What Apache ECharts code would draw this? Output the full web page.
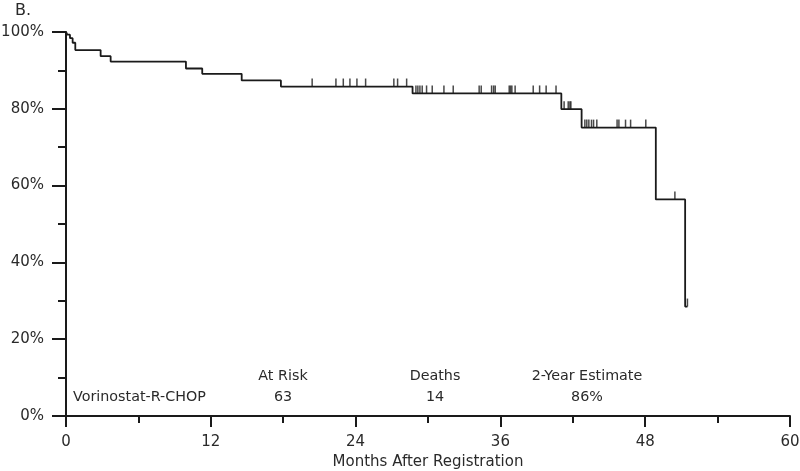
<!DOCTYPE html>
<html>
<head>
<meta charset="utf-8">
<script src="https://cdn.jsdelivr.net/npm/echarts@6/dist/echarts.min.js"></script>
<style>
html,body{margin:0;padding:0;background:#fff;}
#c{width:800px;height:471px;}
</style>
</head>
<body>
<div id="c"></div>
<script>
// Kaplan-Meier step points: [months, survival %]
const stepMonths = [0, 0.11, 0.33, 0.55, 0.77, 2.87, 3.70, 9.94, 11.29, 14.56, 17.81, 28.72, 41.05, 42.73, 48.88, 51.31, 51.5];
const stepSurv   = [100, 99.3, 98.4, 97.2, 95.3, 93.7, 92.3, 90.5, 89.1, 87.4, 85.8, 84.0, 79.9, 75.1, 56.4, 28.5, 28.5];

// Censor marks: months, with the survival level they sit on
const censorMonths = [
  20.40, 22.37, 22.98, 23.53, 24.11, 24.83, 27.17, 27.48, 28.23,
  29.00, 29.16, 29.33, 29.52, 29.88, 30.35, 31.32, 32.09, 34.24, 34.41, 35.27, 35.44, 35.57,
  36.73, 36.84, 36.95, 37.22, 38.72, 39.25, 39.79, 40.61,
  41.28, 41.62, 41.76, 41.84,
  43.00, 43.16, 43.33, 43.55, 43.72, 43.99, 45.67, 45.82, 46.37, 46.79, 48.05,
  50.46, 51.5
];
const censorSurv = [
  85.8, 85.8, 85.8, 85.8, 85.8, 85.8, 85.8, 85.8, 85.8,
  84.0, 84.0, 84.0, 84.0, 84.0, 84.0, 84.0, 84.0, 84.0, 84.0, 84.0, 84.0, 84.0,
  84.0, 84.0, 84.0, 84.0, 84.0, 84.0, 84.0, 84.0,
  79.9, 79.9, 79.9, 79.9,
  75.1, 75.1, 75.1, 75.1, 75.1, 75.1, 75.1, 75.1, 75.1, 75.1, 75.1,
  56.4, 28.5
];

const xTicks = [0, 12, 24, 36, 48, 60];
const yTicks = [0, 20, 40, 60, 80, 100];

const groupName = 'Vorinostat-R-CHOP';
const tableHeaders = ['At Risk', 'Deaths', '2-Year Estimate'];
const tableValues  = ['63', '14', '86%'];
const panelLabel = 'B.';

const FONT = 'DejaVu Sans';
const TXT = '#2a2a2a';
const LINE = '#1a1a1a';

const chart = echarts.init(document.getElementById('c'));

const kmData = stepMonths.map((m, i) => [m, stepSurv[i]]);
const cData = censorMonths.map((m, i) => [m, censorSurv[i]]);

const colX = [283, 435, 587];

const graphics = [
  {type: 'text', left: 15, top: 3, style: {text: panelLabel, font: '16px ' + FONT, fill: TXT}},
  {type: 'text', x: 73, y: 397, style: {text: groupName, font: '14.3px ' + FONT, fill: TXT, textVerticalAlign: 'middle'}}
];
tableHeaders.forEach((h, i) => {
  graphics.push({type: 'text', x: colX[i], y: 376, style: {text: h, font: '14.3px ' + FONT, fill: TXT, textAlign: 'center', textVerticalAlign: 'middle'}});
  graphics.push({type: 'text', x: colX[i], y: 397, style: {text: tableValues[i], font: '14.3px ' + FONT, fill: TXT, textAlign: 'center', textVerticalAlign: 'middle'}});
});

chart.setOption({
  animation: false,
  backgroundColor: '#fff',
  grid: {left: 66, right: 10, top: 32, bottom: 55, containLabel: false, outerBoundsMode: 'none'},
  xAxis: {
    type: 'value', min: xTicks[0], max: xTicks[xTicks.length - 1], interval: 12,
    name: 'Months After Registration', nameLocation: 'middle', nameGap: 39,
    nameTextStyle: {fontFamily: FONT, fontSize: 15, color: TXT},
    axisLine: {show: true, lineStyle: {color: LINE, width: 2}},
    axisTick: {show: true, length: 11, lineStyle: {color: LINE, width: 2}},
    minorTick: {show: true, splitNumber: 2, length: 7, lineStyle: {color: LINE, width: 2}},
    axisLabel: {fontFamily: FONT, fontSize: 15, color: TXT, margin: 19},
    splitLine: {show: false}
  },
  yAxis: {
    type: 'value', min: yTicks[0], max: yTicks[yTicks.length - 1], interval: 20,
    axisLine: {show: true, lineStyle: {color: LINE, width: 2}},
    axisTick: {show: true, length: 14, lineStyle: {color: LINE, width: 2}},
    minorTick: {show: true, splitNumber: 2, length: 8, lineStyle: {color: LINE, width: 2}},
    axisLabel: {fontFamily: FONT, fontSize: 15, color: TXT, margin: 22, formatter: v => v + '%'},
    splitLine: {show: false}
  },
  series: [
    {
      type: 'line', step: 'end', data: kmData, symbol: 'none',
      lineStyle: {color: LINE, width: 1.8}, clip: false
    },
    {
      type: 'scatter', data: cData, symbol: 'rect', symbolSize: [1.5, 8],
      symbolOffset: [0, -4], itemStyle: {color: LINE}
    }
  ],
  graphic: graphics
});
</script>
</body>
</html>
